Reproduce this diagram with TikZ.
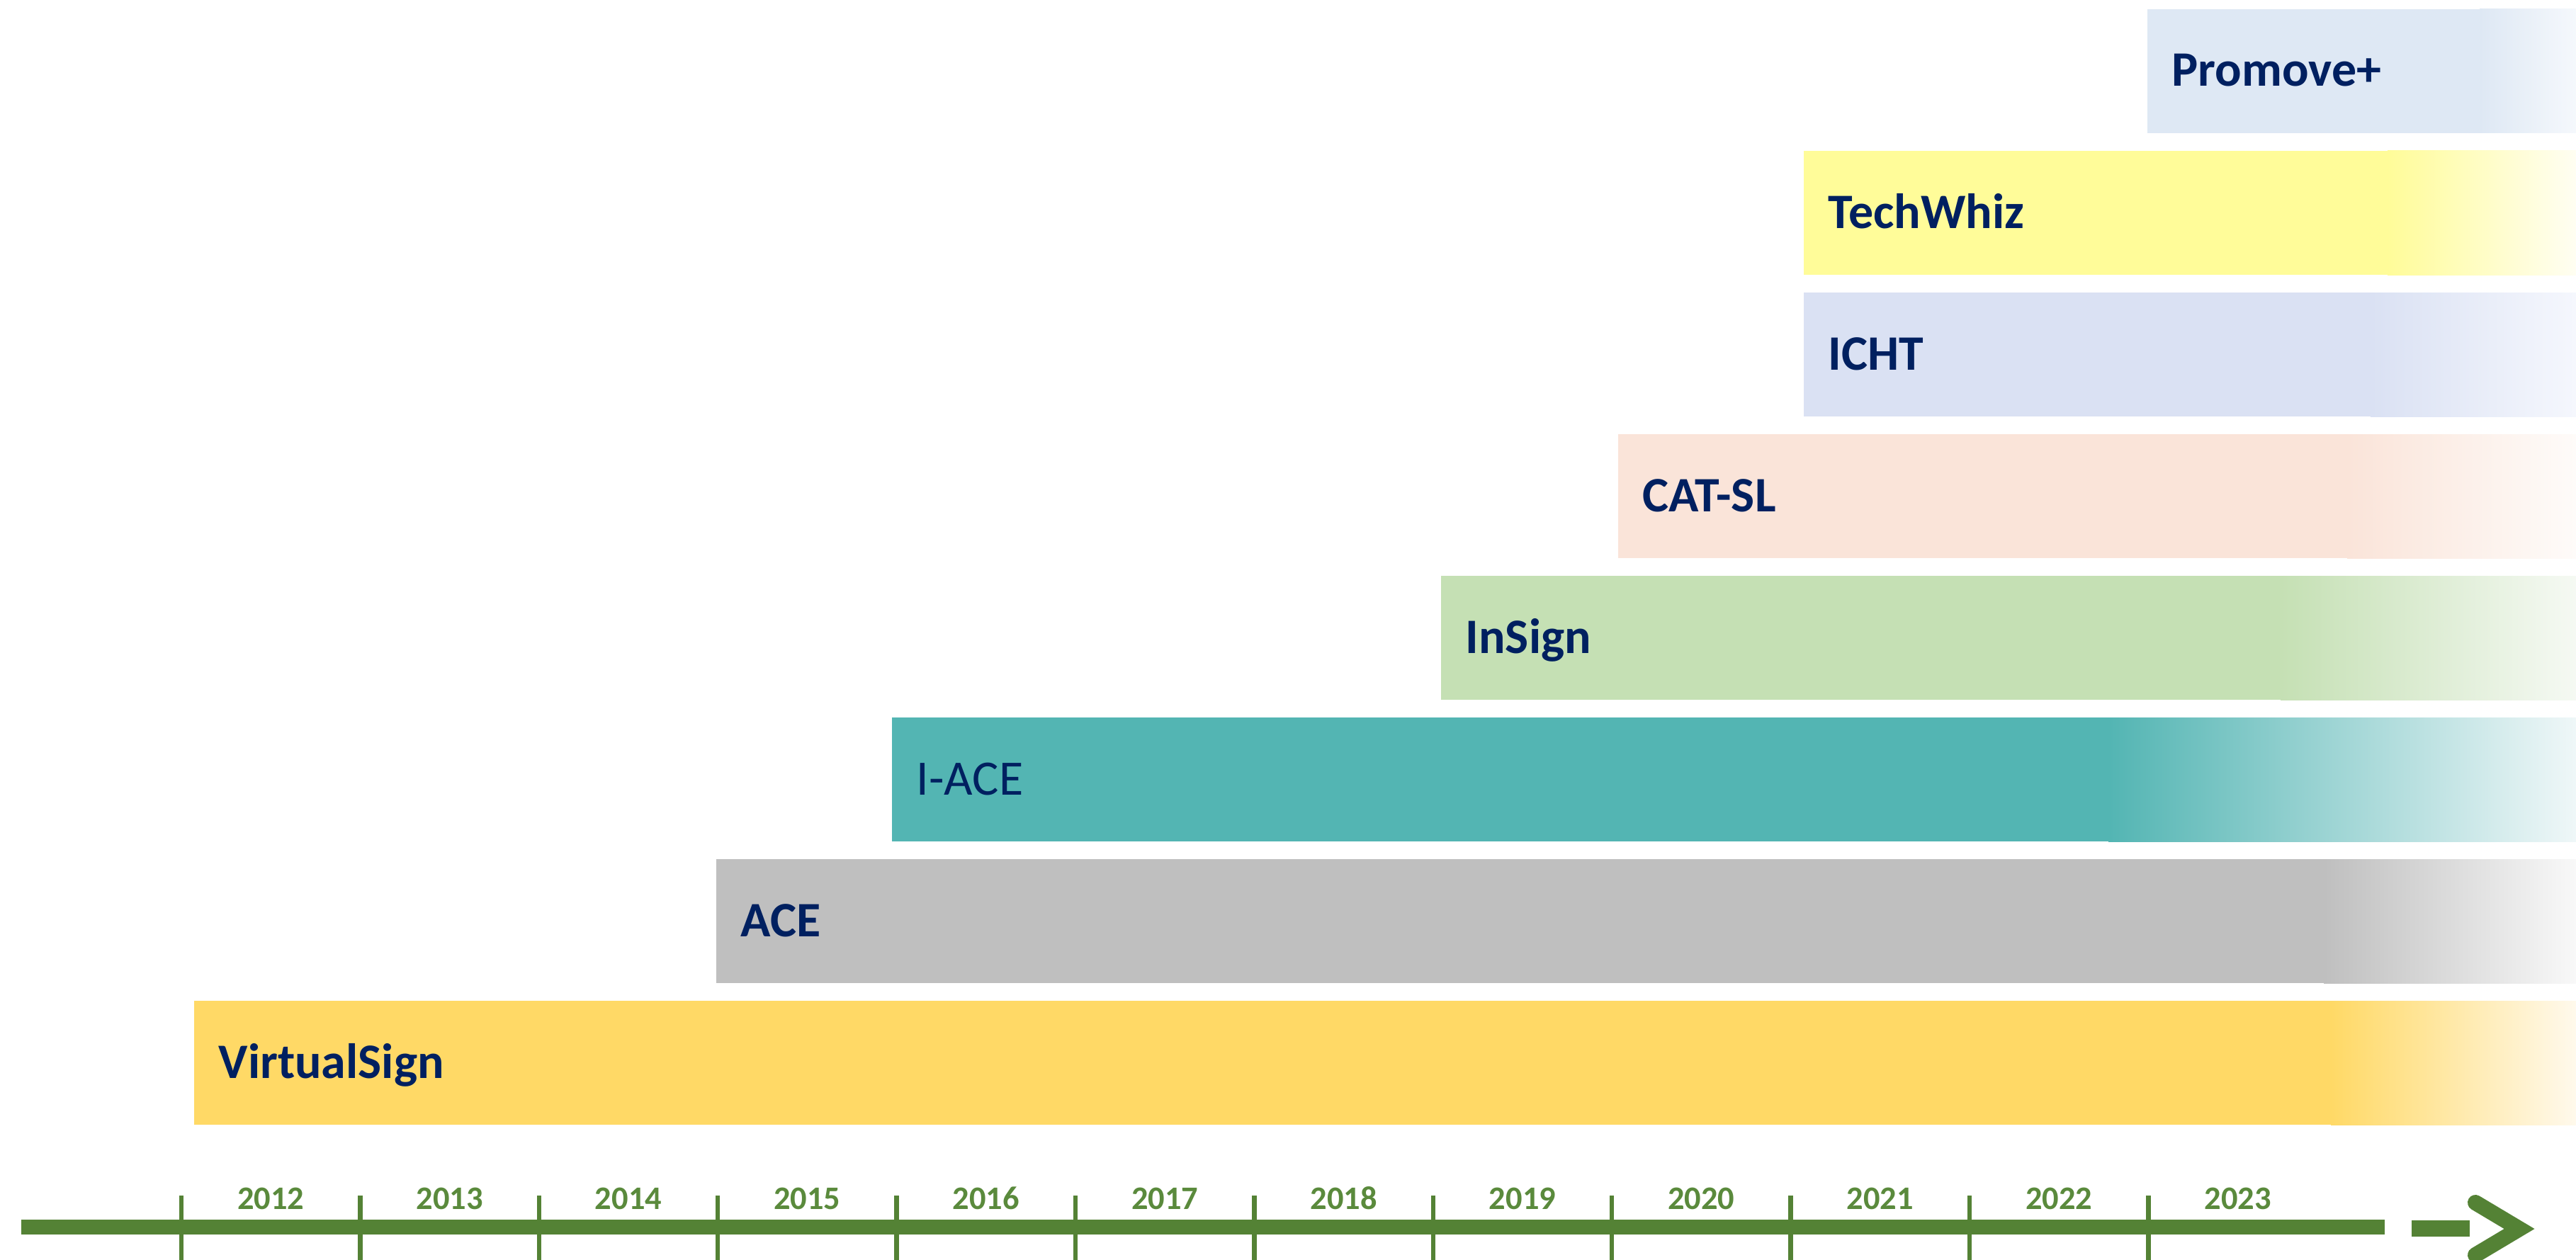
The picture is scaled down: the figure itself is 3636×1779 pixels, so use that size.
\documentclass[tikz,border=0pt]{standalone}
\usepackage{fontspec}
\setmainfont{Carlito}
\definecolor{navy}{HTML}{002060}
\definecolor{axisgreen}{HTML}{548235}
\definecolor{yeargreen}{HTML}{5A8A3C}
\definecolor{cProm}{HTML}{DEE8F4}\definecolor{eProm}{HTML}{F5F8FC}
\definecolor{cTech}{HTML}{FFFC99}\definecolor{eTech}{HTML}{FFFEF2}
\definecolor{cICHT}{HTML}{DAE1F3}\definecolor{eICHT}{HTML}{F5F7FD}
\definecolor{cCAT}{HTML}{FAE4D9}\definecolor{eCAT}{HTML}{FEFBF9}
\definecolor{cIns}{HTML}{C5E0B4}\definecolor{eIns}{HTML}{F5F9F3}
\definecolor{cIACE}{HTML}{53B5B3}\definecolor{eIACE}{HTML}{EFF7F8}
\definecolor{cACE}{HTML}{BFBFBF}\definecolor{eACE}{HTML}{F8F8F8}
\definecolor{cVS}{HTML}{FFD966}\definecolor{eVS}{HTML}{FFF9EC}
\tikzset{
  barlabel/.style={anchor=base west, inner sep=0pt, text=navy,
    font=\fontsize{19.9pt}{24pt}\selectfont\bfseries},
  barlabelreg/.style={barlabel, font=\fontsize{19.9pt}{24pt}\selectfont},
  yearlabel/.style={anchor=base, inner sep=0pt, text=yeargreen,
    font=\fontsize{13.2pt}{16pt}\selectfont\bfseries},
  axisline/.style={draw=axisgreen, line width=0.21cm},
  tickline/.style={draw=axisgreen, line width=0.065cm},
  chevron/.style={draw=axisgreen, line width=0.22cm, line join=miter, line cap=round}
}
% #1 top y, #2 start x, #3 fade start x, #4 colour, #5 end colour
\newcommand{\tlbar}[5]{%
  \fill[#4] (#2,#1) rectangle (#3+1,#1+175);
  \shade[left color=#4, right color=#5] (#3,#1) rectangle (3636,#1+175);
}
\begin{document}
\begin{tikzpicture}[x=0.01cm,y=-0.01cm]
\useasboundingbox (0,0) rectangle (3636,1779);
\fill[white] (0,0) rectangle (3636,1779);
% bars
\tlbar{13}{3031}{3500}{cProm}{eProm}
\tlbar{213}{2546}{3370}{cTech}{eTech}
\tlbar{413}{2546}{3346}{cICHT}{eICHT}
\tlbar{613}{2284}{3313}{cCAT}{eCAT}
\tlbar{813}{2034}{3219}{cIns}{eIns}
\tlbar{1013}{1259}{2976}{cIACE}{eIACE}
\tlbar{1213}{1011}{3280}{cACE}{eACE}
\tlbar{1413}{274}{3290}{cVS}{eVS}
% labels
\node[barlabel] (lprom) at (3065,122) {Promove+};
\node[barlabel] (ltech) at (2580,322) {TechWhiz};
\node[barlabel] (licht) at (2580,522) {ICHT};
\node[barlabel] (lcat) at (2318,722) {CAT-SL};
\node[barlabel] (lins) at (2068,922) {InSign};
\node[barlabelreg] (liace) at (1293,1122) {I-ACE};
\node[barlabel] (lace) at (1045,1322) {ACE};
\node[barlabel] (lvs) at (308,1522) {VirtualSign};
% axis
\coordinate (axstart) at (30,1732);
\coordinate (axend) at (3366,1732);
\coordinate (dashstart) at (3404,1734);
\coordinate (dashend) at (3486,1734);
\coordinate (chtop) at (3494,1698);
\coordinate (chtip) at (3556,1735);
\coordinate (chbot) at (3494,1772);
\draw[axisline] (axstart) -- (axend);
\draw[axisline, line width=0.23cm] (dashstart) -- (dashend);
\draw[chevron] (chtop) -- (chtip) -- (chbot);
\foreach \i [evaluate=\i as \xx using 256+252.4*\i] in {0,...,11} {
  \coordinate (tt\i) at (\xx,1688);
  \coordinate (tb\i) at (\xx,1779);
  \draw[tickline] (tt\i) -- (tb\i);
}
\foreach \i/\yr in {0/2012,1/2013,2/2014,3/2015,4/2016,5/2017,6/2018,7/2019,8/2020,9/2021,10/2022,11/2023} {
  \pgfmathsetmacro{\xx}{256+252.4*\i+126.2}
  \node[yearlabel] (y\yr) at (\xx,1707) {\yr};
}
\end{tikzpicture}
\end{document}
